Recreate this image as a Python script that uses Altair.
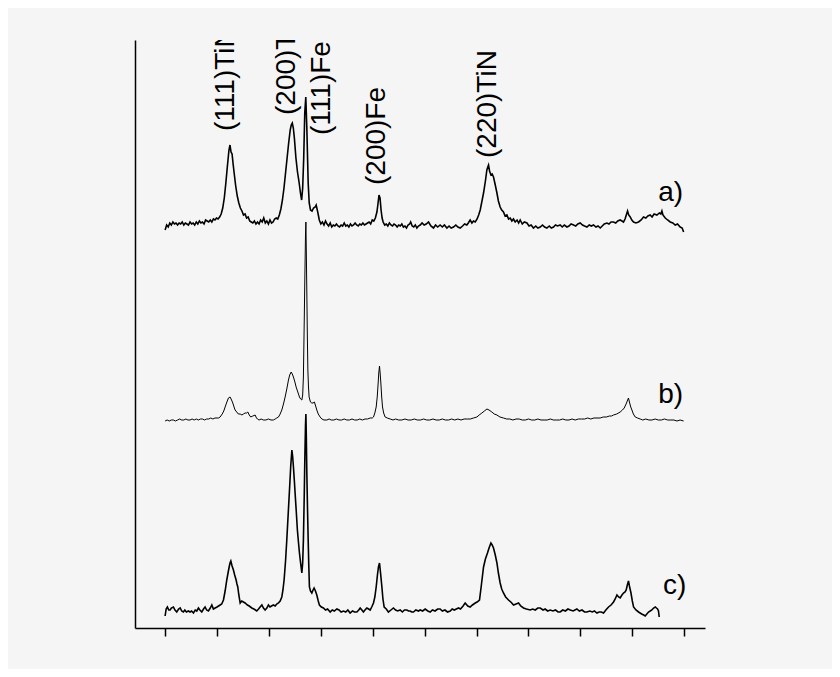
import altair as alt
import pandas as pd

# ---------------- data (2θ in degrees, intensity in a.u.) ----------------
theta_a = [30.0, 30.15, 30.3, 30.45, 30.6, 30.75, 30.9, 31.05, 31.2, 31.35, 31.5, 31.65, 31.8, 31.95,
           32.1, 32.25, 32.4, 32.55, 32.7, 32.85, 33.0, 33.15, 33.3, 33.45, 33.6, 33.75, 33.9, 34.05,
           34.2, 34.35, 34.5, 34.65, 34.8, 34.95, 35.1, 35.25, 35.4, 35.55, 35.7, 35.85, 36.0, 36.15,
           36.25, 36.35, 36.45, 36.55, 36.65, 36.8, 36.95, 37.1, 37.25, 37.4, 37.55, 37.7, 37.85, 38.0,
           38.15, 38.3, 38.45, 38.6, 38.75, 38.9, 39.05, 39.2, 39.35, 39.5, 39.65, 39.8, 39.95, 40.1,
           40.25, 40.4, 40.55, 40.7, 40.85, 41.0, 41.15, 41.3, 41.45, 41.6, 41.75, 41.9, 42.05, 42.15,
           42.25, 42.35, 42.45, 42.6, 42.75, 42.9, 43.05, 43.15, 43.25, 43.35, 43.45, 43.55, 43.65,
           43.78, 43.88, 44.0, 44.15, 44.3, 44.45, 44.55, 44.7, 44.85, 45.0, 45.15, 45.3, 45.45, 45.6,
           45.75, 45.9, 46.05, 46.2, 46.35, 46.5, 46.65, 46.8, 46.95, 47.1, 47.25, 47.4, 47.55, 47.7,
           47.85, 48.0, 48.15, 48.3, 48.45, 48.6, 48.75, 48.9, 49.05, 49.2, 49.35, 49.5, 49.65, 49.8,
           49.95, 50.1, 50.25, 50.4, 50.5, 50.6, 50.7, 50.8, 50.9, 51.0, 51.15, 51.3, 51.45, 51.6,
           51.75, 51.9, 52.05, 52.2, 52.35, 52.5, 52.65, 52.8, 52.95, 53.1, 53.25, 53.4, 53.55, 53.65,
           53.8, 53.95, 54.1, 54.25, 54.4, 54.57, 54.75, 54.95, 55.15, 55.37, 55.6, 55.85, 56.05,
           56.25, 56.49, 56.7, 56.9, 57.14, 57.35, 57.55, 57.78, 58.0, 58.2, 58.42, 58.65, 58.85,
           59.06, 59.2, 59.38, 59.55, 59.7, 59.87, 60.05, 60.2, 60.35, 60.5, 60.67, 60.85, 60.99,
           61.08, 61.15, 61.25, 61.38, 61.5, 61.63, 61.8, 61.96, 62.1, 62.27, 62.42, 62.59, 62.75,
           62.92, 63.08, 63.24, 63.4, 63.55, 63.72, 63.9, 64.05, 64.2, 64.4, 64.6, 64.85, 65.05,
           65.25, 65.48, 65.7, 65.9, 66.13, 66.35, 66.55, 66.77, 67.0, 67.2, 67.41, 67.6, 67.8,
           68.05, 68.25, 68.45, 68.7, 68.9, 69.1, 69.34, 69.55, 69.75, 69.98, 70.2, 70.4, 70.63,
           70.85, 71.05, 71.26, 71.5, 71.7, 71.91, 72.1, 72.3, 72.55, 72.75, 72.95, 73.19, 73.4,
           73.6, 73.83, 74.0, 74.15, 74.3, 74.45, 74.54, 74.65, 74.8, 74.95, 75.12, 75.35, 75.6,
           75.85, 76.08, 76.3, 76.5, 76.72, 76.9, 77.1, 77.37, 77.6, 77.75, 77.85, 77.95, 78.17,
           78.4, 78.65, 78.9, 79.13, 79.35, 79.61, 79.8, 79.94]
int_a = [-2, 3, 1, 5, 3, 6, 4, 5, 3, 5, 4, 6, 3, 5,
         4, 3, 6, 4, 5, 3, 6, 4, 7, 5, 6, 4, 8, 7,
         6, 8, 6, 9, 8, 10, 9, 11, 14, 20, 30, 45, 62, 78,
         83, 76, 74, 64, 55, 42, 32, 25, 20, 17, 13, 14, 10, 11,
         7, 6, 5, 7, 4, 6, 4, 8, 6, 10, 5, 7, 4, 8,
         5, 6, 9, 10, 9, 13, 19, 28, 40, 55, 70, 85, 98, 103,
         105, 100, 90, 70, 56, 46, 34, 28, 40, 70, 115, 131, 100,
         45, 25, 18, 17, 20, 21, 23, 16, 8, 4, 6, 3, 7, 4,
         2, 5, 1, 3, 2, 4, 2, 1, 3, 2, 5, 2, 3, 1,
         4, 2, 3, 5, 3, 2, 4, 3, 5, 3, 4, 5, 6, 4,
         8, 7, 10, 16, 24, 33, 30, 18, 10, 6, 3, 4, 2, 5,
         3, 2, 4, 3, 1, 3, 2, 4, 1, 2, 0, 3, 4, 6,
         2, 1, 3, 0, 2, 3, 5, 3, 4, 6, 2, 0, 3,
         1, 3, 1, 3, 0, 2, 0, 1, 3, 1, 0, 2, 4,
         3, 5, 8, 5, 7, 6, 9, 13, 18, 26, 35, 47, 58,
         61, 63, 57, 53, 54, 51, 43, 35, 27, 21, 18, 16, 12,
         13, 9, 10, 7, 9, 6, 8, 5, 8, 4, 6, 5, 2,
         3, 0, 2, 0, 1, 3, 1, 0, 2, 0, 1, 3, 2,
         3, 1, 3, 1, 2, 4, 3, 2, 4, 5, 3, 2, 1,
         3, 2, 3, 1, 2, 0, 2, 4, 5, 4, 6, 6, 5,
         7, 8, 7, 6, 9, 14, 17, 13, 11, 8, 6, 5, 6,
         8, 11, 10, 12, 13, 11, 14, 13, 15, 14, 17, 13, 10,
         8, 6, 5, 3, 4, 1, 0, -4]

theta_b = [30.0, 30.2, 30.4, 30.6, 30.8, 31.0, 31.2, 31.4, 31.6, 31.8, 32.0, 32.2, 32.4, 32.6, 32.8,
           33.0, 33.2, 33.4, 33.6, 33.8, 34.0, 34.2, 34.4, 34.6, 34.8, 35.0, 35.15, 35.3, 35.5, 35.65,
           35.78, 35.95, 36.1, 36.26, 36.4, 36.52, 36.64, 36.74, 36.9, 37.05, 37.23, 37.4, 37.54, 37.7,
           37.85, 37.97, 38.1, 38.25, 38.45, 38.67, 38.8, 38.89, 39.05, 39.25, 39.47, 39.7, 39.95, 40.2,
           40.43, 40.6, 40.75, 40.92, 41.08, 41.24, 41.4, 41.56, 41.72, 41.88, 42.0, 42.14, 42.25, 42.36,
           42.5, 42.62, 42.78, 42.94, 43.05, 43.17, 43.25, 43.32, 43.4, 43.46, 43.52, 43.56, 43.6, 43.65,
           43.7, 43.75, 43.81, 43.87, 44.0, 44.13, 44.25, 44.38, 44.5, 44.61, 44.75, 44.93, 45.1, 45.3,
           45.58, 45.8, 46.0, 46.25, 46.5, 46.75, 47.0, 47.25, 47.5, 47.75, 48.0, 48.25, 48.5, 48.75,
           49.0, 49.25, 49.5, 49.75, 49.95, 50.07, 50.2, 50.33, 50.43, 50.52, 50.58, 50.65, 50.71, 50.78,
           50.86, 50.94, 51.05, 51.19, 51.4, 51.68, 51.95, 52.2, 52.5, 52.8, 53.1, 53.4, 53.7, 54.0,
           54.3, 54.6, 54.9, 55.2, 55.5, 55.8, 56.1, 56.4, 56.7, 57.0, 57.3, 57.6, 57.9, 58.2, 58.5,
           58.8, 59.1, 59.4, 59.7, 60.03, 60.25, 60.51, 60.75, 61.0, 61.2, 61.47, 61.7, 61.96, 62.25,
           62.59, 62.9, 63.2, 63.5, 63.8, 64.1, 64.4, 64.7, 65.0, 65.3, 65.6, 65.9, 66.2, 66.5, 66.8,
           67.1, 67.4, 67.7, 68.0, 68.3, 68.6, 68.9, 69.2, 69.5, 69.8, 70.1, 70.4, 70.7, 71.0, 71.3,
           71.6, 71.9, 72.2, 72.5, 72.8, 73.0, 73.19, 73.5, 73.83, 74.05, 74.22, 74.4, 74.55, 74.63,
           74.72, 74.85, 74.96, 75.1, 75.28, 75.5, 75.76, 76.0, 76.3, 76.6, 76.9, 77.2, 77.5, 77.8,
           78.1, 78.4, 78.7, 79.0, 79.3, 79.6, 79.94]
int_b = [0, 1, 0, 1, 1, 0, 1, 2, 1, 1, 2, 1, 1, 2, 1,
         2, 1, 2, 2, 1, 2, 2, 3, 2, 3, 3, 3, 4, 7, 10,
         14, 19, 23, 24, 21, 18, 14, 11, 9, 7, 7, 6, 7, 8,
         8, 9, 6, 4, 5, 6, 3, 2, 1, 2, 1, 1, 2, 1,
         1, 2, 3, 4, 7, 11, 17, 24, 32, 41, 46, 49, 47, 44,
         39, 34, 29, 24, 22, 21, 26, 44, 100, 144, 185, 199, 170, 128,
         85, 51, 34, 24, 19, 18, 18, 19, 15, 11, 7, 4, 2, 1,
         1, 2, 1, 1, 2, 1, 1, 2, 1, 1, 2, 1, 1, 2,
         1, 2, 2, 3, 3, 4, 8, 14, 24, 38, 48, 55, 48, 38,
         24, 14, 8, 4, 3, 2, 1, 2, 1, 1, 2, 1, 1, 2,
         1, 1, 2, 1, 1, 2, 1, 1, 2, 1, 1, 2, 1, 2, 1,
         2, 2, 2, 3, 4, 6, 8, 10, 12, 11, 9, 7, 6, 4,
         3, 2, 2, 1, 2, 2, 1, 1, 2, 1, 1, 2, 1, 1, 1,
         2, 1, 1, 1, 2, 1, 1, 2, 1, 2, 2, 2, 3, 2, 3,
         3, 3, 4, 4, 5, 5, 6, 7, 9, 11, 13, 17, 21, 23,
         19, 14, 11, 7, 4, 3, 2, 1, 2, 1, 1, 2, 1, 1,
         2, 1, 1, 1, 0, 1, 0]

theta_c = [30.0, 30.1, 30.22, 30.35, 30.48, 30.6, 30.8, 30.95, 31.12, 31.3, 31.45, 31.6, 31.76, 31.9,
           32.05, 32.24, 32.4, 32.55, 32.73, 32.9, 33.05, 33.21, 33.35, 33.53, 33.7, 33.85, 34.0, 34.17,
           34.35, 34.5, 34.65, 34.82, 35.0, 35.15, 35.3, 35.45, 35.62, 35.78, 35.94, 36.06, 36.17, 36.25,
           36.33, 36.45, 36.58, 36.7, 36.84, 36.92, 37.0, 37.1, 37.23, 37.38, 37.54, 37.7, 37.93, 38.1,
           38.35, 38.55, 38.7, 38.83, 39.0, 39.15, 39.32, 39.47, 39.63, 39.8, 39.95, 40.1, 40.25, 40.43,
           40.6, 40.75, 40.92, 41.08, 41.24, 41.35, 41.46, 41.6, 41.72, 41.85, 41.98, 42.1, 42.21, 42.28,
           42.36, 42.45, 42.52, 42.63, 42.74, 42.85, 42.94, 43.05, 43.17, 43.25, 43.32, 43.4, 43.46, 43.52,
           43.56, 43.6, 43.65, 43.72, 43.78, 43.84, 43.9, 44.0, 44.13, 44.25, 44.35, 44.48, 44.61, 44.75,
           44.86, 45.05, 45.25, 45.45, 45.65, 45.9, 46.1, 46.3, 46.54, 46.75, 46.95, 47.18, 47.4, 47.6,
           47.82, 48.05, 48.25, 48.47, 48.65, 48.79, 48.95, 49.1, 49.25, 49.43, 49.6, 49.75, 49.9, 50.07,
           50.2, 50.33, 50.45, 50.55, 50.65, 50.75, 50.88, 50.98, 51.1, 51.3, 51.51, 51.75, 51.99, 52.2,
           52.4, 52.64, 52.85, 53.05, 53.28, 53.45, 53.6, 53.75, 53.92, 54.15, 54.4, 54.57, 54.8, 55.05,
           55.3, 55.53, 55.75, 56.0, 56.25, 56.49, 56.7, 56.95, 57.2, 57.46, 57.65, 57.85, 58.05, 58.26,
           58.45, 58.7, 58.9, 59.15, 59.38, 59.6, 59.87, 60.05, 60.28, 60.45, 60.67, 60.85, 61.05, 61.2,
           61.38, 61.5, 61.63, 61.8, 61.96, 62.1, 62.27, 62.42, 62.59, 62.8, 63.07, 63.3, 63.56, 63.8,
           64.04, 64.25, 64.52, 64.8, 65.16, 65.4, 65.65, 65.9, 66.13, 66.4, 66.6, 66.85, 67.09, 67.35,
           67.6, 67.85, 68.05, 68.3, 68.55, 68.8, 69.02, 69.3, 69.66, 69.9, 70.15, 70.4, 70.63, 70.9,
           71.15, 71.35, 71.59, 71.8, 72.0, 72.23, 72.45, 72.71, 72.95, 73.19, 73.35, 73.52, 73.68, 73.83,
           74.0, 74.15, 74.3, 74.41, 74.52, 74.63, 74.72, 74.87, 75.0, 75.12, 75.35, 75.6, 75.9, 76.1,
           76.24, 76.4, 76.56, 76.72, 76.88, 77.05, 77.21, 77.32, 77.43, 77.52, 77.59]
int_c = [-5, 2, 4, 1, 1, 3, 4, 1, -1, 2, 3, 0, -1, 1,
         -1, 0, -1, 0, -2, 1, 0, 3, 1, -1, 2, 4, 1, 0,
         3, 6, 2, 3, 4, 5, 6, 7, 11, 20, 31, 38, 44, 48,
         50, 45, 41, 36, 31, 27, 24, 16, 8, 10, 9, 8, 6, 5,
         3, 2, 1, 0, 2, 4, 6, 3, 1, 3, 6, 4, 5, 6,
         5, 7, 8, 10, 14, 21, 31, 50, 71, 96, 121, 145, 161, 155,
         144, 130, 118, 100, 81, 68, 58, 48, 38, 48, 71, 115, 154, 185,
         197, 175, 138, 100, 71, 45, 24, 20, 18, 21, 23, 20, 16, 10,
         6, 4, 3, 1, 2, -1, 1, 0, 2, 1, -1, 0, -1, 1,
         -2, 0, -1, -1, 1, 3, 1, -1, 1, 3, 2, 1, 4, 8,
         14, 24, 36, 44, 48, 38, 24, 12, 4, 2, -1, 1, 3, 1,
         0, 1, -1, 1, 1, 0, 0, -1, -1, 1, 0, 1, 0, 2,
         0, -1, 1, 0, 2, 2, 0, 1, -1, 0, 2, 1, 2, 3,
         2, 5, 8, 5, 4, 6, 8, 9, 11, 25, 44, 52, 58, 63,
         68, 66, 63, 56, 48, 38, 28, 22, 18, 14, 11, 9, 6, 7,
         8, 5, 3, 2, 1, 2, 1, 3, 3, 1, 2, 0, 1, 0,
         1, -1, -1, 1, 0, 2, 1, 0, 2, 0, 1, -1, -1, 0,
         -1, 0, -2, -1, -1, -2, 1, 4, 6, 9, 12, 16, 14, 13,
         16, 18, 19, 21, 26, 30, 25, 18, 10, 4, 1, -1, -3, -4,
         -5, -3, -1, 0, 1, 3, 4, 3, 2, 0, -6]

trace_names = ["a", "b", "c"]
trace_offsets = [400, 207, 17]

peak_labels = ["(111)TiN", "(200)TiN", "(111)Fe", "(200)Fe", "(220)TiN"]
peak_label_theta = [35.88, 41.72, 45.12, 50.42, 61.12]
peak_label_y = [497, 513, 493, 443, 470]

trace_labels = ["a)", "b)", "c)"]
trace_label_theta = [77.5, 77.5, 77.95]
trace_label_y = [427, 225, 34]

x_ticks = [30, 35, 40, 45, 50, 55, 60, 65, 70, 75, 80]

# ---------------- build tables ----------------
def trace_frame(name, th, it, off):
    return pd.DataFrame({
        "trace": name,
        "order": list(range(len(th))),
        "two_theta": th,
        "y": [v + off for v in it],
    })

df_a = trace_frame("a", theta_a, int_a, trace_offsets[0])
df_b = trace_frame("b", theta_b, int_b, trace_offsets[1])
df_c = trace_frame("c", theta_c, int_c, trace_offsets[2])

df_peaks = pd.DataFrame({"label": peak_labels, "two_theta": peak_label_theta, "y": peak_label_y})
df_tl = pd.DataFrame({"label": trace_labels, "two_theta": trace_label_theta, "y": trace_label_y})

x_scale = alt.Scale(domain=[27.1, 82.0], nice=False, zero=False)
y_scale = alt.Scale(domain=[0, 588], nice=False, zero=False)

x_axis = alt.Axis(values=x_ticks, labels=False, ticks=True, tickSize=8, tickWidth=1.5,
                  tickColor="black", domainColor="black", domainWidth=1.5, grid=False, title=None)
y_axis = alt.Axis(labels=False, ticks=False, domainColor="black", domainWidth=1.5,
                  grid=False, title=None)

def line_layer(df, width):
    return alt.Chart(df).mark_line(color="black", strokeWidth=width, clip=True).encode(
        x=alt.X("two_theta:Q", scale=x_scale, axis=x_axis),
        y=alt.Y("y:Q", scale=y_scale, axis=y_axis),
        order="order:Q",
    )

layer_a = line_layer(df_a, 1.6)
layer_b = line_layer(df_b, 1.0)
layer_c = line_layer(df_c, 1.6)

peak_text = alt.Chart(df_peaks).mark_text(
    angle=270, align="left", baseline="middle", font="Liberation Sans",
    fontSize=28, color="black", clip=True
).encode(
    x=alt.X("two_theta:Q", scale=x_scale),
    y=alt.Y("y:Q", scale=y_scale),
    text="label:N",
)

trace_text = alt.Chart(df_tl).mark_text(
    align="left", baseline="alphabetic", font="Liberation Sans",
    fontSize=28, color="black"
).encode(
    x=alt.X("two_theta:Q", scale=x_scale),
    y=alt.Y("y:Q", scale=y_scale),
    text="label:N",
)

chart = alt.layer(layer_a, layer_b, layer_c, peak_text, trace_text).properties(
    width=570,
    height=588,
    autosize=alt.AutoSizeParams(type="none"),
    padding={"left": 127, "top": 32, "right": 127, "bottom": 41},
    background="#f5f5f5",
).configure_view(stroke="transparent")

chart.save("out.html", embed_options={"renderer": "svg", "actions": False})
